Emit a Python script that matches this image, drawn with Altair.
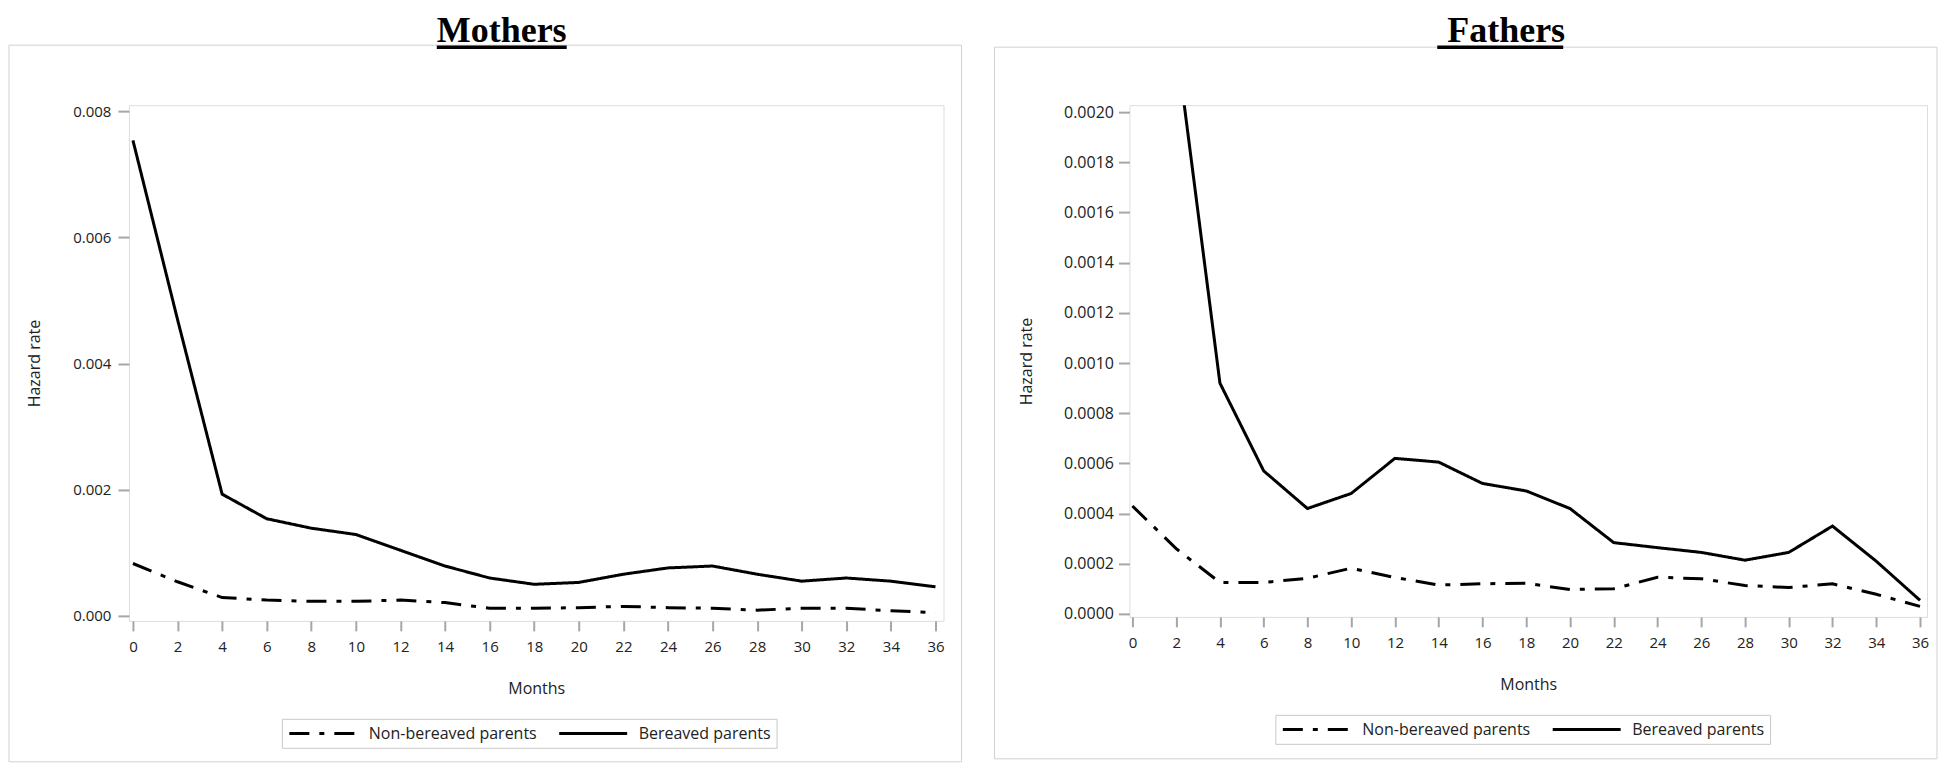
import altair as alt
import pandas as pd

# ---------------- data ----------------
months = [0, 2, 4, 6, 8, 10, 12, 14, 16, 18, 20, 22, 24, 26, 28, 30, 32, 34, 36]

mothers_bereaved = [0.00754, 0.0047, 0.00193, 0.00154, 0.00139, 0.00129, 0.00104, 0.00079,
                    0.00060, 0.00050, 0.00053, 0.00066, 0.00076, 0.00079, 0.00066, 0.00055,
                    0.00060, 0.00055, 0.00046]
mothers_nonbereaved = [0.00083, 0.00054, 0.00029, 0.00025, 0.00023, 0.00023, 0.00025, 0.00021,
                       0.00012, 0.00012, 0.00013, 0.00015, 0.00013, 0.00012, 0.00009, 0.00012,
                       0.00012, 0.00008, 0.00005]

fathers_bereaved = [0.0037, 0.00228, 0.00092, 0.00057, 0.00042, 0.00048, 0.00062, 0.000605,
                    0.00052, 0.00049, 0.00042, 0.000284, 0.000264, 0.000245, 0.000214, 0.000245,
                    0.00035, 0.00021, 0.000054]
fathers_nonbereaved = [0.00043, 0.00026, 0.000125, 0.000125, 0.000142, 0.000182, 0.000145, 0.000115,
                       0.00012, 0.000122, 0.000097, 0.0001, 0.000146, 0.00014, 0.000113, 0.000105,
                       0.00012, 0.000078, 0.00003]

groups = ["Non-bereaved parents", "Bereaved parents"]
mothers_yticks = [0.0, 0.002, 0.004, 0.006, 0.008]
fathers_yticks = [0.0, 0.0002, 0.0004, 0.0006, 0.0008, 0.0010, 0.0012, 0.0014, 0.0016, 0.0018, 0.0020]

# ---------------- styling ----------------
FONT = "Open Sans"
AXIS_GRAY = "#a3a7aa"
FRAME_GRAY = "#d2d2d2"
TEXT_COL = "#222222"
DASHES = [[20, 10, 5, 10], [1, 0]]
# long horizontal legend stroke (68 px) drawn from a compact symbol box
LEGEND_PATH = "M-1,0H8.714"
TITLE_Y = -63


def long_df(bereaved, nonbereaved):
    return pd.DataFrame({
        "Months": months + months,
        "rate": nonbereaved + bereaved,
        "group": [groups[0]] * len(months) + [groups[1]] * len(months),
    })


one = pd.DataFrame({"k": [0]})


def panel(df, name, ydom, yvals, yfmt, ylab_size, xdom, w, h, frame, title_x, ul,
          ytick, ylabpad, ytitlepad, legend_xy):
    x = alt.X("Months:Q",
              scale=alt.Scale(domain=xdom, nice=False, zero=False),
              axis=alt.Axis(values=months, format="d", title="Months",
                            labelFont=FONT, labelFontSize=15, labelColor=TEXT_COL,
                            labelPadding=9, labelFlush=False,
                            tickSize=10, tickWidth=2, tickColor=AXIS_GRAY, domain=False,
                            grid=False, titleFont=FONT, titleFontSize=16,
                            titleFontWeight="normal", titleColor=TEXT_COL, titlePadding=26))
    y = alt.Y("rate:Q",
              scale=alt.Scale(domain=ydom, nice=False, zero=False),
              axis=alt.Axis(values=yvals, format=yfmt, title="Hazard rate",
                            labelFont=FONT, labelFontSize=ylab_size, labelColor=TEXT_COL,
                            labelPadding=ylabpad, tickSize=ytick, tickWidth=2,
                            tickColor=AXIS_GRAY, domain=False, grid=False,
                            titleFont=FONT, titleFontSize=16, titleFontWeight="normal",
                            titleColor=TEXT_COL, titlePadding=ytitlepad))
    sd = alt.StrokeDash("group:N",
                        scale=alt.Scale(domain=groups, range=DASHES),
                        legend=alt.Legend(orient="none", legendX=legend_xy[0], legendY=legend_xy[1],
                                          direction="horizontal", title=None,
                                          symbolType=LEGEND_PATH, symbolSize=196,
                                          symbolStrokeWidth=3, symbolStrokeColor="black",
                                          symbolFillColor="transparent",
                                          labelFont=FONT, labelFontSize=16, labelColor=TEXT_COL,
                                          labelLimit=400, labelOffset=64, columnPadding=15,
                                          padding=6, strokeColor="#c8c8c8", fillColor="white"))
    lines = alt.Chart(df).mark_line(clip=True, strokeWidth=3, color="black",
                                    strokeCap="butt").encode(x=x, y=y, strokeDash=sd)
    frame_rect = alt.Chart(one).mark_rect(fillOpacity=0, stroke=FRAME_GRAY, strokeWidth=1).encode(
        x=alt.value(frame[0]), x2=alt.value(frame[1]),
        y=alt.value(frame[2]), y2=alt.value(frame[3]))
    # invisible spacer so the page keeps room for the full title ascent
    spacer = alt.Chart(one).mark_rule(opacity=0, strokeWidth=1).encode(
        x=alt.value(title_x), x2=alt.value(title_x + 1), y=alt.value(TITLE_Y - 33))
    title = alt.Chart(one).mark_text(text=name, font="Liberation Serif", fontSize=36,
                                     fontWeight="bold", align="left", baseline="alphabetic",
                                     color="black").encode(x=alt.value(title_x), y=alt.value(TITLE_Y))
    underline = alt.Chart(one).mark_rule(color="black", strokeWidth=3.5).encode(
        x=alt.value(ul[0]), x2=alt.value(ul[1]), y=alt.value(TITLE_Y + 5))
    return alt.layer(frame_rect, lines, spacer, title, underline).properties(width=w, height=h)


mothers = panel(long_df(mothers_bereaved, mothers_nonbereaved), "Mothers",
                ydom=[-0.00008, 0.0081], yvals=mothers_yticks, yfmt=".3f", ylab_size=15,
                xdom=[-0.18, 36.36], w=815, h=516,
                frame=[-120, 833, -60, 657], title_x=308, ul=[308, 438],
                ytick=11, ylabpad=7, ytitlepad=30, legend_xy=[153, 614])

fathers = panel(long_df(fathers_bereaved, fathers_nonbereaved), "Fathers",
                ydom=[-0.000012, 0.002028], yvals=fathers_yticks, yfmt=".4f", ylab_size=16,
                xdom=[-0.137, 36.32], w=798, h=512,
                frame=[-135, 808, -58, 654], title_x=318, ul=[308, 434],
                ytick=11, ylabpad=5, ytitlepad=29, legend_xy=[146, 610])

chart = (
    alt.hconcat(mothers, fathers, spacing=186, bounds="flush")
    .resolve_scale(strokeDash="independent")
    .properties(padding=0)
    .configure_view(stroke=AXIS_GRAY, strokeWidth=1.5)
    .configure(background="white")
)

chart.save("out.html", embed_options={"renderer": "svg", "actions": False})
